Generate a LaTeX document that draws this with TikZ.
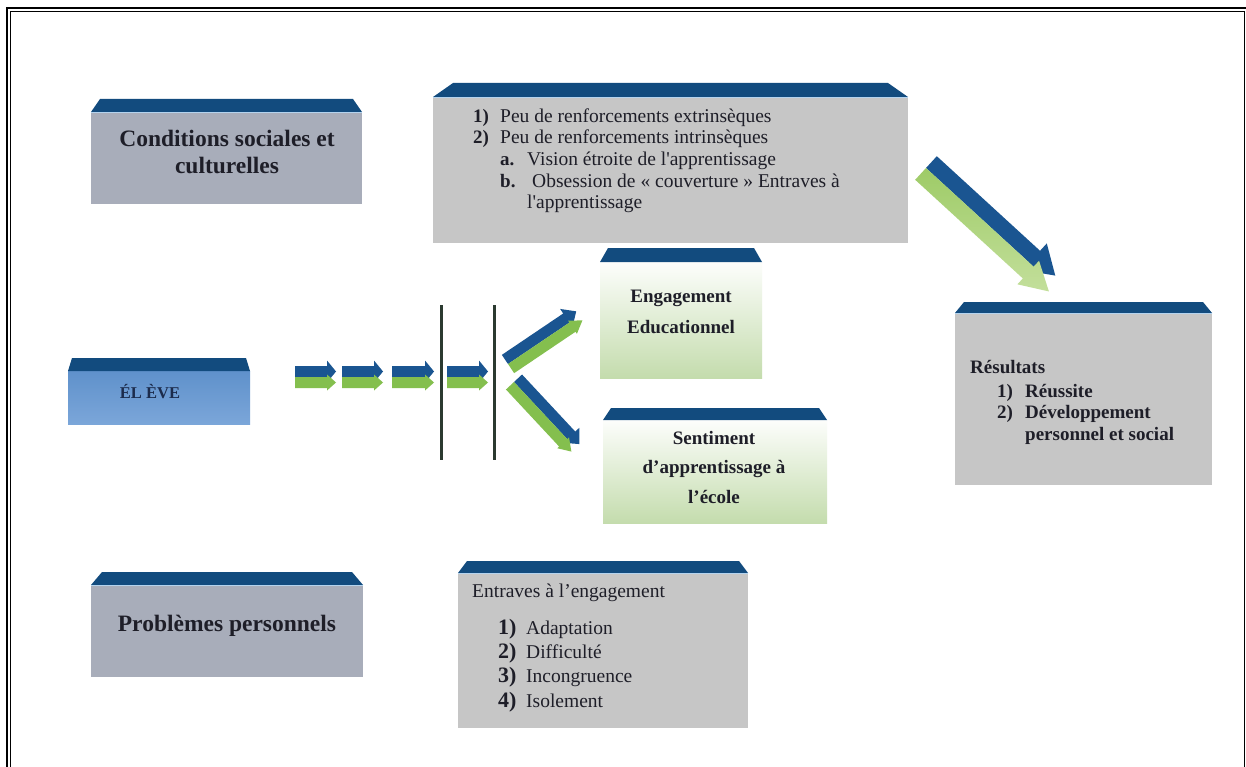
\documentclass[tikz,border=0pt]{standalone}
\usepackage{fontspec}
\setmainfont{Liberation Serif}[Ligatures=TeXOff]
\definecolor{capblue}{HTML}{124B7E}
\definecolor{caplight}{HTML}{B4D3EE}
\definecolor{slate}{HTML}{A8ADBA}
\definecolor{lgray}{HTML}{C6C6C6}
\definecolor{arrblue}{HTML}{1A5591}
\definecolor{arrgreen}{HTML}{84BF4E}
\definecolor{lightgreenA}{HTML}{9ECB67}
\definecolor{lightgreenB}{HTML}{C3DF9B}
\definecolor{palegreen}{HTML}{C4DCAD}
\definecolor{txt}{HTML}{1E1E28}
\definecolor{barcol}{HTML}{2B3A30}
\definecolor{elvtop}{HTML}{5F91CB}
\definecolor{elvmid}{HTML}{A9C9EC}
\definecolor{elvbot}{HTML}{7BA6D9}
\definecolor{elvtxt}{HTML}{1C2C4C}
\tikzset{
  body/.style={inner sep=0pt, outer sep=0pt, anchor=north west, draw=none},
  ttl/.style={font=\bfseries\fontsize{23.5}{26}\selectfont, text=txt, inner sep=0pt, anchor=base},
  btxt/.style={font=\bfseries\fontsize{19}{22}\selectfont, text=txt, inner sep=0pt},
  rtxt/.style={font=\fontsize{19.5}{22}\selectfont, text=txt, inner sep=0pt, anchor=base west},
  bigno/.style={font=\bfseries\fontsize{22}{24}\selectfont, text=txt, inner sep=0pt, anchor=base west},
  barline/.style={draw=barcol, line width=3pt},
  greenface/.style={fill=arrgreen},
  blueface/.style={fill=arrblue}
}
% #1 name, #2 x, #3 y (top of body), #4 width, #5 height, #6 cap height, #7 inset, #8 fill style
\newcommand\capbox[8]{%
  \node[body,#8,minimum width=#4pt,minimum height=#5pt] (#1) at (#2,#3) {};
  \fill[capblue] (#1.north west) -- ++(#7pt,#6pt) -- ([xshift=-#7pt,yshift=#6pt]#1.north east) -- (#1.north east) -- cycle;
}
\newcommand\capline[1]{%
  \draw[caplight,line width=1.2pt] ([yshift=-0.6pt]#1.north west) -- ([yshift=-0.6pt]#1.north east);}
% #1 x, #2 y, #3 angle, #4 length, #5 half band, #6 blue head half, #7 green head half, #8 head length, #9 green tip extension
\newcommand\duoarrow[9]{%
  \begin{scope}[shift={(#1,#2)},rotate=#3]
    \path[blueface] (0pt,0pt) -- ({#4pt-#8pt},0pt) -- ({#4pt-#8pt},{#5pt-#6pt}) -- (#4pt,#5pt)
      -- ({#4pt-#8pt},{#5pt+#6pt}) -- ({#4pt-#8pt},{2*#5pt}) -- (0pt,{2*#5pt}) -- cycle;
    \path[greenface] (0pt,0pt) -- ({#4pt+#9pt-#8pt},0pt) -- ({#4pt+#9pt-#8pt},{-#5pt+#7pt}) -- ({#4pt+#9pt},-#5pt)
      -- ({#4pt+#9pt-#8pt},{-#5pt-#7pt}) -- ({#4pt+#9pt-#8pt},{-2*#5pt}) -- (0pt,{-2*#5pt}) -- cycle;
  \end{scope}}
\begin{document}
\begin{tikzpicture}[x=1pt,y=-1pt]
\useasboundingbox (0,0) rectangle (1246,767);
\fill[white] (0,0) rectangle (1246,767);
% page frame
\draw[line width=2pt] (7,767) -- (7,8) -- (1246,8);
\draw[line width=1pt] (10.5,767) -- (10.5,11.5) -- (1244.5,11.5) -- (1244.5,767);

% boxes
\capbox{cond}{91}{112}{271}{92}{13}{9}{fill=slate}
\capbox{infos}{433}{97}{475}{146}{14}{20}{fill=lgray}
\capbox{eng}{600}{262}{162}{116}{14}{8}{top color=white!96!palegreen, bottom color=palegreen}
\capbox{sent}{603}{420}{224}{103}{12}{8}{top color=white!96!palegreen, bottom color=palegreen}
\capbox{res}{955}{313}{257}{172}{11}{9}{fill=lgray}
\capbox{eleve}{68}{371}{182}{53}{13}{4}{top color=elvtop, middle color=elvmid, bottom color=elvbot}
\capbox{pb}{91}{585}{272}{92}{13}{11}{fill=slate}
\capbox{entr}{458}{573}{290}{155}{12}{9}{fill=lgray}
\capline{infos}\capline{res}\capline{entr}\capline{cond}\capline{pb}

% texts
\node[ttl] (c1) at (227,147) {Conditions sociales et};
\node[ttl] (c2) at (227,174) {culturelles};
\node[ttl] (p1) at (227,631) {Problèmes personnels};

\node[btxt,anchor=base west] (i1n) at (473,123) {1)};
\node[rtxt] (i1) at (500,123) {Peu de renforcements extrinsèques};
\node[btxt,anchor=base west] (i2n) at (473,144) {2)};
\node[rtxt] (i2) at (500,144) {Peu de renforcements intrinsèques};
\node[btxt,anchor=base west] (ian) at (500,166) {a.};
\node[rtxt] (ia) at (527,166) {Vision étroite de l'apprentissage};
\node[btxt,anchor=base west] (ibn) at (500,188) {b.};
\node[rtxt] (ib) at (532,188) {Obsession de « couverture » Entraves à};
\node[rtxt] (ib2) at (527,209) {l'apprentissage};

\node[btxt,anchor=base] (e1) at (681,302) {Engagement};
\node[btxt,anchor=base] (e2) at (681,333) {Educationnel};
\node[btxt,anchor=base] (s1) at (714,444) {Sentiment};
\node[btxt,anchor=base] (s2) at (714,473) {d’apprentissage à};
\node[btxt,anchor=base] (s3) at (714,503) {l’école};

\node[btxt,anchor=base west] (r0) at (970,373) {Résultats};
\node[btxt,anchor=base west] (r1n) at (997,397) {1)};
\node[btxt,anchor=base west] (r1) at (1025,397) {Réussite};
\node[btxt,anchor=base west] (r2n) at (997,418) {2)};
\node[btxt,anchor=base west] (r2) at (1025,418) {Développement};
\node[btxt,anchor=base west] (r3) at (1025,440) {personnel et social};

\node[font=\bfseries\fontsize{16.5}{18}\selectfont, text=elvtxt, inner sep=0pt, anchor=base] (el) at (150,398) {ÉL ÈVE};

\node[rtxt] (n0) at (472,597) {Entraves à l’engagement};
\node[bigno] (n1n) at (498,634) {1)};
\node[rtxt] (n1) at (526,634) {Adaptation};
\node[bigno] (n2n) at (498,658) {2)};
\node[rtxt] (n2) at (526,658) {Difficulté};
\node[bigno] (n3n) at (498,682) {3)};
\node[rtxt] (n3) at (526,682) {Incongruence};
\node[bigno] (n4n) at (498,707) {4)};
\node[rtxt] (n4) at (526,707) {Isolement};

% bars
\draw[barline] (441,305) -- (441,460);
\draw[barline] (494,305) -- (494,460);

% small arrows
\duoarrow{295}{377}{0}{41}{5.5}{11}{8}{9}{0}
\duoarrow{342}{377}{0}{41}{5.5}{11}{8}{9}{0}
\duoarrow{392}{377}{0}{42}{5.5}{11}{8}{9}{0}
\duoarrow{447}{377}{0}{41}{5.5}{11}{8}{9}{0}
% diagonal arrows
\duoarrow{508}{364}{34}{86}{5.5}{11}{8}{12}{0}
\duoarrow{514}{382}{-47}{90}{5.5}{11}{8}{12}{0}
% big arrow
\begin{scope}[greenface/.style={top color=lightgreenA, bottom color=lightgreenB}]
\duoarrow{926}{168}{-42.5}{168}{8}{18}{16}{28}{6}
\end{scope}
\end{tikzpicture}
\end{document}
